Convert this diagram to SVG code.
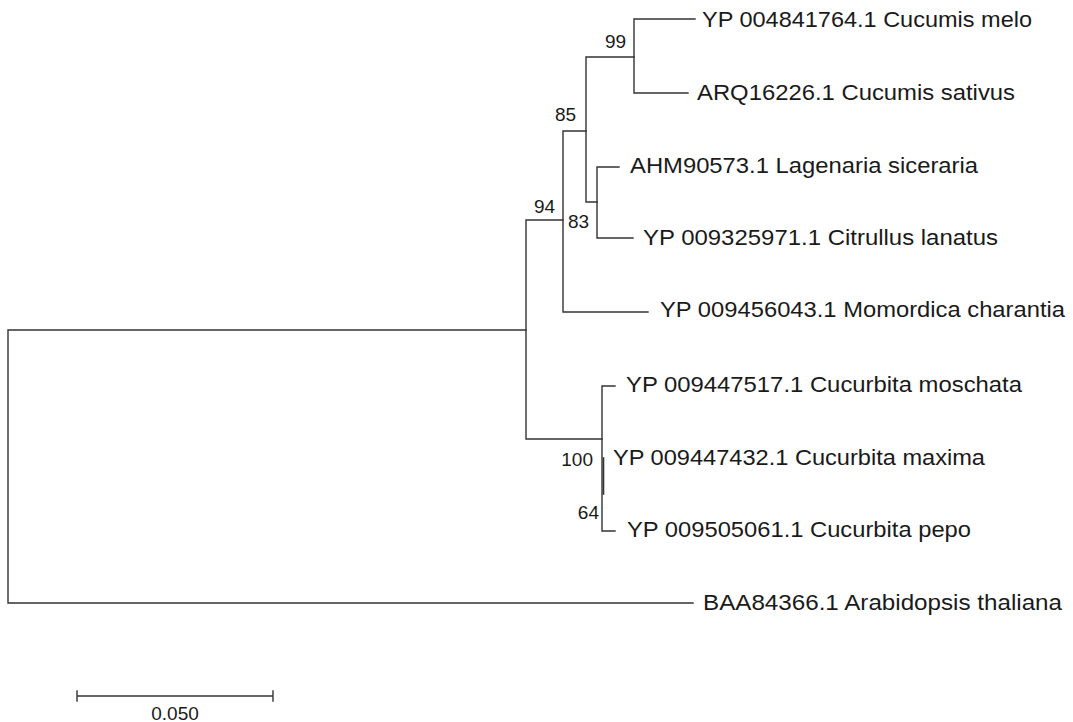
<svg xmlns="http://www.w3.org/2000/svg" width="1073" height="722" viewBox="0 0 1073 722">
<style>
.br{fill:none;stroke:#333;stroke-width:1.4;stroke-linecap:square}
.lab{font-family:"Liberation Sans",Arial,sans-serif;font-size:21.5px;fill:#1a1a1a}
.bs{font-family:"Liberation Sans",Arial,sans-serif;font-size:19px;fill:#1a1a1a}
</style>
<rect width="1073" height="722" fill="#fff"/>
<g id="connectors">
<path class="br" d="M8,330 H526 M8,330 V603 H693"/>
<path class="br" d="M526,220 V439 M526,220 H563 M526,439 H602"/>
<path class="br" d="M563,131 V312 H648 M563,131 H586"/>
<path class="br" d="M586,57 V202 H597 M586,57 H634"/>
<path class="br" d="M634,19 V93 H688 M634,19 H695"/>
<path class="br" d="M597,167 V238 H633 M597,167 H619"/>
<path class="br" d="M602,386 V531 H615 M602,386 H615"/>
<path class="br" d="M603.5,458 V494" style="stroke-width:1.6"/>
</g>
<g id="leaf-melo"><text class="lab" x="702" y="27" textLength="330" lengthAdjust="spacingAndGlyphs">YP 004841764.1 Cucumis melo</text></g>
<g id="leaf-sativus"><text class="lab" x="697" y="100" textLength="318" lengthAdjust="spacingAndGlyphs">ARQ16226.1 Cucumis sativus</text></g>
<g id="leaf-lagenaria"><text class="lab" x="630" y="173" textLength="348" lengthAdjust="spacingAndGlyphs">AHM90573.1 Lagenaria siceraria</text></g>
<g id="leaf-citrullus"><text class="lab" x="643" y="245" textLength="355" lengthAdjust="spacingAndGlyphs">YP 009325971.1 Citrullus lanatus</text></g>
<g id="leaf-momordica"><text class="lab" x="660" y="317" textLength="405" lengthAdjust="spacingAndGlyphs">YP 009456043.1 Momordica charantia</text></g>
<g id="leaf-moschata"><text class="lab" x="626" y="392" textLength="396" lengthAdjust="spacingAndGlyphs">YP 009447517.1 Cucurbita moschata</text></g>
<g id="leaf-maxima"><text class="lab" x="613" y="465" textLength="372" lengthAdjust="spacingAndGlyphs">YP 009447432.1 Cucurbita maxima</text></g>
<g id="leaf-pepo"><text class="lab" x="627" y="537" textLength="344" lengthAdjust="spacingAndGlyphs">YP 009505061.1 Cucurbita pepo</text></g>
<g id="leaf-arabidopsis"><text class="lab" x="703" y="610" textLength="359" lengthAdjust="spacingAndGlyphs">BAA84366.1 Arabidopsis thaliana</text></g>
<g id="bootstrap">
<text class="bs" x="605" y="48">99</text>
<text class="bs" x="555" y="121">85</text>
<text class="bs" x="534" y="213">94</text>
<text class="bs" x="568" y="228">83</text>
<text class="bs" x="593" y="466" text-anchor="end">100</text>
<text class="bs" x="599" y="519" text-anchor="end">64</text>
</g>
<g id="scalebar">
<path class="br" d="M77,696 H273 M77,691 V701 M273,691 V701"/>
<text class="bs" x="175" y="720" text-anchor="middle">0.050</text>
</g>
</svg>
